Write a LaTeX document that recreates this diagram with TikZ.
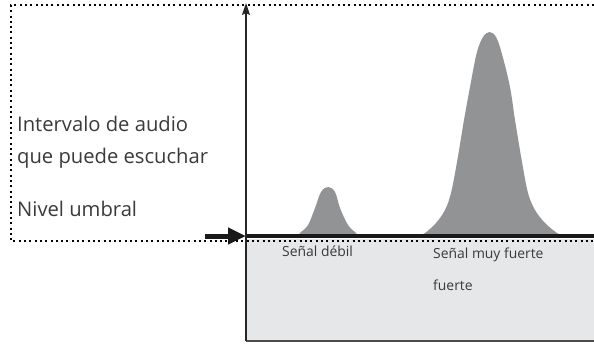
\documentclass[tikz,border=0pt]{standalone}
\usepackage{fontspec}
\setmainfont{Open Sans}
\usetikzlibrary{arrows.meta}
\definecolor{txt}{HTML}{3A3A3A}
\definecolor{peak}{HTML}{929395}
\definecolor{zone}{HTML}{E6E7E8}
\begin{document}
\begin{tikzpicture}[x=1pt,y=-1pt,
  dotline/.style={line width=2pt,dash pattern=on 2pt off 3.3pt,black},
  biglabel/.style={anchor=base west,inner sep=0pt,text=txt,font=\fontsize{20.2}{24}\selectfont},
  smalllabel/.style={anchor=base west,inner sep=0pt,text=txt,font=\fontsize{13.9}{16}\selectfont},
  peakfill/.style={fill=peak,draw=none}]
\useasboundingbox (0,0) rectangle (594,348);
% grey zone below threshold
\fill[zone] (246,239) rectangle (594,341);
\draw[line width=1.5pt,black!70] (246,341) -- (594,341);
% dotted frame
\coordinate (tr) at (594,5);
\coordinate (tl) at (11,5);
\coordinate (bl) at (11,241);
\coordinate (br) at (594,241);
\draw[dotline] (tr) -- (tl) -- (bl) -- (br);
% peaks
\fill[peakfill] plot[smooth,tension=0.6] coordinates {(298,236) (300,233) (308,225) (315,208) (321,192) (328,187) (335,192) (340,208) (348,225) (356,233) (358,236)};
\fill[peakfill] plot[smooth,tension=0.55] coordinates {(418,236) (425,233) (436,223) (445,210) (451,193) (457,162) (464,120) (470,87) (476.7,53) (483,37) (489.5,32) (496,37) (501.7,53) (510,87) (515,120) (522,162) (528,193) (535,210) (545,223) (557,233) (564,236)};
% threshold line
\coordinate (thL) at (246,236);
\coordinate (thR) at (594,236);
\draw[line width=4.5pt,black!90] (thL) -- (thR);
% arrow to threshold
\coordinate (arrS) at (205,236);
\draw[line width=5pt,black!90,-{Triangle[length=18pt,width=16pt]}] (arrS) -- (thL);
% vertical axis
\coordinate (axB) at (246,341);
\coordinate (axT) at (246,3);
\draw[line width=1.3pt,black!85,-{Stealth[length=12pt,width=8pt,inset=2pt]}] (axB) -- (axT);
% labels
\node[biglabel] (l1) at (17,131.7) {Intervalo de audio};
\node[biglabel] (l2) at (17,163.3) {que puede escuchar};
\node[biglabel] (l3) at (17,216) {Nivel umbral};
\node[smalllabel] (s1) at (282,256.7) {Señal débil};
\node[smalllabel] (s2) at (433,258.3) {Señal muy fuerte};
\node[smalllabel] (s3) at (433,290) {fuerte};
\end{tikzpicture}
\end{document}
